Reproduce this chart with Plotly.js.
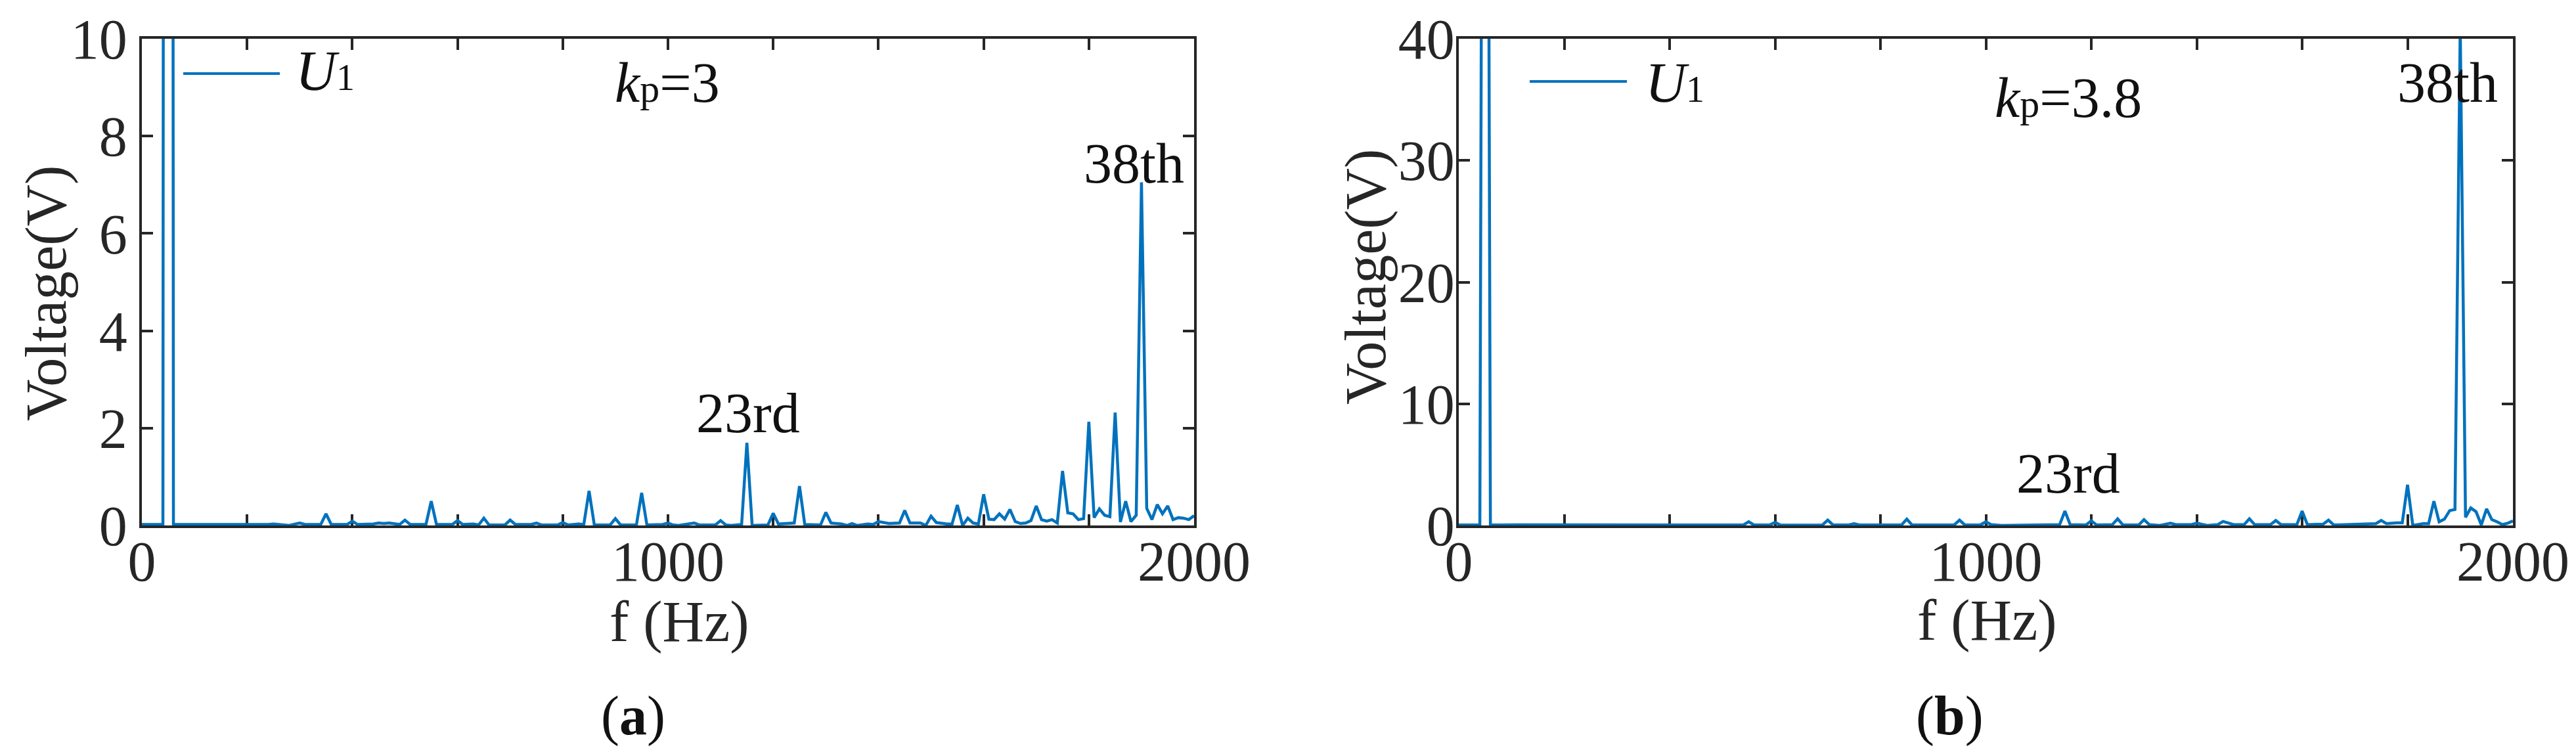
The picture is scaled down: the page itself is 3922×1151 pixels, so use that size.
<!DOCTYPE html>
<html>
<head>
<meta charset="utf-8">
<script src="https://cdn.plot.ly/plotly-3.0.1.min.js"></script>
<style>html,body{margin:0;padding:0;background:#fff;}</style>
</head>
<body>
<div id="chart" style="width:3922px;height:1151px;"></div>
<script>
// ---- Data ----
// Panel (a): kp = 3
const freqA = [0, 40, 50, 60, 240, 250, 280, 300, 310, 340, 350, 360, 390, 400, 410, 440, 450, 460, 470, 490, 500, 510, 540, 550, 560, 590, 600, 610, 630, 640, 650, 660, 690, 700, 710, 740, 750, 760, 790, 800, 810, 830, 840, 850, 860, 890, 900, 910, 940, 950, 960, 990, 1000, 1010, 1020, 1040, 1050, 1060, 1090, 1100, 1110, 1120, 1140, 1150, 1160, 1190, 1200, 1210, 1240, 1250, 1260, 1290, 1300, 1310, 1330, 1340, 1350, 1360, 1380, 1390, 1400, 1420, 1440, 1450, 1460, 1480, 1490, 1500, 1510, 1530, 1540, 1550, 1560, 1570, 1580, 1590, 1600, 1610, 1620, 1630, 1640, 1650, 1660, 1670, 1680, 1690, 1700, 1710, 1720, 1730, 1740, 1750, 1760, 1770, 1780, 1790, 1800, 1810, 1820, 1830, 1840, 1850, 1860, 1870, 1880, 1890, 1900, 1910, 1920, 1930, 1940, 1950, 1960, 1970, 1980, 1990, 2000];
const voltA = [0.02, 0.02, 150, 0.02, 0.02, 0.03, 0.0, 0.05, 0.02, 0.02, 0.24, 0.02, 0.02, 0.09, 0.02, 0.03, 0.05, 0.04, 0.05, 0.02, 0.11, 0.02, 0.02, 0.5, 0.02, 0.02, 0.1, 0.02, 0.03, 0.01, 0.15, 0.01, 0.01, 0.11, 0.02, 0.02, 0.05, 0.01, 0.01, 0.06, 0.01, 0.03, 0.02, 0.71, 0.01, 0.01, 0.14, 0.01, 0.01, 0.67, 0.01, 0.02, 0.05, 0.01, 0.0, 0.04, 0.05, 0.01, 0.01, 0.1, 0.01, 0.0, 0.02, 1.70, 0.0, 0.01, 0.25, 0.03, 0.05, 0.81, 0.02, 0.01, 0.27, 0.05, 0.03, 0.0, 0.04, 0.0, 0.03, 0.02, 0.08, 0.04, 0.05, 0.31, 0.05, 0.05, 0.0, 0.19, 0.06, 0.03, 0.03, 0.42, 0.0, 0.15, 0.05, 0.03, 0.64, 0.13, 0.12, 0.24, 0.13, 0.33, 0.08, 0.04, 0.05, 0.1, 0.40, 0.12, 0.09, 0.12, 0.05, 1.12, 0.26, 0.24, 0.12, 0.14, 2.13, 0.16, 0.34, 0.21, 0.18, 2.32, 0.07, 0.5, 0.08, 0.21, 7.05, 0.35, 0.12, 0.43, 0.24, 0.40, 0.12, 0.16, 0.15, 0.12, 0.2];

// Panel (b): kp = 3.8
const freqB = [0, 40, 50, 60, 110, 180, 240, 340, 350, 360, 400, 490, 500, 510, 540, 550, 560, 590, 600, 610, 620, 690, 700, 710, 740, 750, 760, 840, 850, 860, 890, 900, 910, 940, 950, 960, 990, 1000, 1010, 1030, 1140, 1150, 1160, 1190, 1200, 1210, 1240, 1250, 1260, 1290, 1300, 1310, 1330, 1350, 1360, 1390, 1400, 1420, 1440, 1450, 1470, 1490, 1500, 1510, 1540, 1550, 1560, 1590, 1600, 1610, 1640, 1650, 1660, 1680, 1710, 1740, 1750, 1760, 1780, 1790, 1800, 1810, 1830, 1840, 1850, 1860, 1870, 1880, 1890, 1900, 1910, 1920, 1930, 1940, 1950, 1960, 1970, 1980, 1990, 2000];
const voltB = [0.04, 0.04, 150, 0.04, 0.05, 0.05, 0.05, 0.04, 0.1, 0.04, 0.06, 0.04, 0.1, 0.04, 0.04, 0.3, 0.04, 0.04, 0.26, 0.04, 0.03, 0.04, 0.44, 0.04, 0.04, 0.15, 0.04, 0.04, 0.52, 0.04, 0.04, 0.1, 0.04, 0.04, 0.44, 0.04, 0.05, 0.3, 0.07, 0.0, 0.07, 1.18, 0.07, 0.04, 0.39, 0.04, 0.07, 0.55, 0.04, 0.04, 0.48, 0.07, 0.0, 0.18, 0.07, 0.07, 0.18, 0.0, 0.07, 0.33, 0.07, 0.07, 0.55, 0.07, 0.07, 0.41, 0.07, 0.07, 1.18, 0.07, 0.11, 0.44, 0.04, 0.07, 0.11, 0.15, 0.41, 0.15, 0.22, 0.22, 3.35, 0.0, 0.15, 0.15, 2.0, 0.3, 0.52, 1.22, 1.31, 41, 0.67, 1.44, 1.13, 0.05, 1.37, 0.48, 0.3, 0.07, 0.18, 0.37];

const xTickVals = [0, 200, 400, 600, 800, 1000, 1200, 1400, 1600, 1800, 2000];
const xTickText = ['0', '', '', '', '', '1000', '', '', '', '', '2000'];
const yTickValsA = [0, 2, 4, 6, 8, 10];
const yTickValsB = [0, 10, 20, 30, 40];

// ---- Layout helpers ----
const W = 3922, H = 1151;
const px = x => x / W;
const py = y => 1 - y / H;
const FONT = 'Liberation Serif, "Times New Roman", serif';
const INK = '#262626';
const BLUE = '#0072BD';

const axisCommon = {
  showline: true, linecolor: INK, linewidth: 4, mirror: 'ticks',
  ticks: 'inside', ticklen: 17, tickwidth: 4, tickcolor: INK,
  showgrid: false, zeroline: false, automargin: false, fixedrange: true,
  layer: 'below traces',
  tickfont: {family: FONT, size: 86, color: INK}
};

const traces = [
  {x: freqA, y: voltA, xaxis: 'x', yaxis: 'y', type: 'scatter', mode: 'lines',
   line: {color: BLUE, width: 4.5}, name: 'U1', hoverinfo: 'skip'},
  {x: freqB, y: voltB, xaxis: 'x2', yaxis: 'y2', type: 'scatter', mode: 'lines',
   line: {color: BLUE, width: 4.5}, name: 'U1', hoverinfo: 'skip'}
];

function ann(text, xc, yc, opts) {
  return Object.assign({
    text: text, xref: 'paper', yref: 'paper', x: px(xc), y: py(yc),
    xanchor: 'center', yanchor: 'middle', showarrow: false,
    font: {family: FONT, size: 86, color: '#111'}
  }, opts || {});
}

const legendText = "<i>U</i><span style='font-size:56px'>1</span>";

const layout = {
  width: W, height: H,
  margin: {l: 0, r: 0, t: 0, b: 0},
  paper_bgcolor: '#fff', plot_bgcolor: '#fff',
  showlegend: false,
  font: {family: FONT, size: 86, color: INK},
  xaxis: Object.assign({}, axisCommon, {
    domain: [px(216), px(1818)], range: [0, 2000], anchor: 'y',
    tickmode: 'array', tickvals: xTickVals, ticktext: xTickText, ticklabelstandoff: -23
  }),
  yaxis: Object.assign({}, axisCommon, {
    domain: [py(800), py(59)], range: [0, 10], anchor: 'x',
    tickmode: 'array', tickvals: yTickValsA, ticktext: yTickValsA.map(String), ticklabelstandoff: 1
  }),
  xaxis2: Object.assign({}, axisCommon, {
    domain: [px(2221), px(3826)], range: [0, 2000], anchor: 'y2',
    tickmode: 'array', tickvals: xTickVals, ticktext: xTickText, ticklabelstandoff: -23
  }),
  yaxis2: Object.assign({}, axisCommon, {
    domain: [py(800), py(59)], range: [0, 40], anchor: 'x2',
    tickmode: 'array', tickvals: yTickValsB, ticktext: yTickValsB.map(String), ticklabelstandoff: -15
  }),
  shapes: [
    {type: 'line', xref: 'paper', yref: 'paper', x0: px(279), x1: px(426), y0: py(112), y1: py(112),
     line: {color: BLUE, width: 4}},
    {type: 'line', xref: 'paper', yref: 'paper', x0: px(2329), x1: px(2477), y0: py(124), y1: py(124),
     line: {color: BLUE, width: 4}}
  ],
  annotations: [
    // panel (a)
    ann(legendText, 448, 108, {xanchor: 'left'}),
    ann("<i>k</i><span style='font-size:60px'>p</span>=3", 1016, 126),
    ann('38th', 1726, 249),
    ann('23rd', 1139, 629),
    ann('Voltage(V)', 70, 447, {textangle: -90, font: {family: FONT, size: 88, color: INK}}),
    ann('f (Hz)', 1034, 946, {font: {family: FONT, size: 88, color: INK}}),
    ann('(<b>a</b>)', 964, 1090, {font: {family: FONT, size: 84, color: '#111'}}),
    // panel (b)
    ann(legendText, 2503, 126, {xanchor: 'left'}),
    ann("<i>k</i><span style='font-size:60px'>p</span>=3.8", 3149, 149),
    ann('38th', 3726, 126),
    ann('23rd', 3149, 721),
    ann('Voltage(V)', 2080, 422, {textangle: -90, font: {family: FONT, size: 88, color: INK}}),
    ann('f (Hz)', 3025, 944, {font: {family: FONT, size: 88, color: INK}}),
    ann('(<b>b</b>)', 2968, 1090, {font: {family: FONT, size: 84, color: '#111'}})
  ]
};

Plotly.newPlot('chart', traces, layout, {staticPlot: true, displayModeBar: false});
</script>
</body>
</html>
